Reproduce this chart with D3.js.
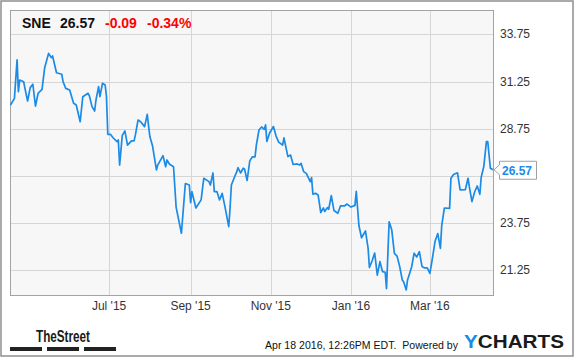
<!DOCTYPE html>
<html>
<head>
<meta charset="utf-8">
<script src="https://cdn.jsdelivr.net/npm/d3@7"></script>
<style>
  body { margin: 0; background: #fff; }
  svg { display: block; font-family: "Liberation Sans", Arial, sans-serif; }
</style>
</head>
<body>
<svg id="chart" width="575" height="358"></svg>
<script>
// SNE daily close
const dates = [
  "2015-04-17","2015-04-20","2015-04-22","2015-04-23","2015-04-24","2015-04-27","2015-04-28","2015-04-30",
  "2015-05-02","2015-05-04","2015-05-06","2015-05-08","2015-05-11","2015-05-13","2015-05-16","2015-05-18","2015-05-19","2015-05-22","2015-05-26","2015-05-27","2015-05-29",
  "2015-06-01","2015-06-04","2015-06-06","2015-06-09","2015-06-11","2015-06-15","2015-06-16","2015-06-18","2015-06-20","2015-06-21","2015-06-23","2015-06-24","2015-06-26","2015-06-28","2015-06-29","2015-06-30",
  "2015-07-02","2015-07-04","2015-07-07","2015-07-08","2015-07-09","2015-07-11","2015-07-13","2015-07-15","2015-07-18","2015-07-20","2015-07-21","2015-07-23","2015-07-25","2015-07-28","2015-07-30",
  "2015-08-01","2015-08-03","2015-08-06","2015-08-07","2015-08-11","2015-08-13","2015-08-14","2015-08-16","2015-08-19","2015-08-21","2015-08-25","2015-08-28","2015-08-31",
  "2015-09-01","2015-09-02","2015-09-05","2015-09-09","2015-09-11","2015-09-15","2015-09-16","2015-09-18","2015-09-19","2015-09-21","2015-09-23","2015-09-25","2015-09-27","2015-09-30",
  "2015-10-01","2015-10-02","2015-10-05","2015-10-06","2015-10-07","2015-10-09","2015-10-11","2015-10-12","2015-10-14","2015-10-16","2015-10-18","2015-10-20","2015-10-21","2015-10-23","2015-10-25","2015-10-27","2015-10-28","2015-10-29","2015-10-31",
  "2015-11-03","2015-11-05","2015-11-07","2015-11-10","2015-11-11","2015-11-14","2015-11-16","2015-11-18","2015-11-21","2015-11-23","2015-11-24","2015-11-26","2015-11-28",
  "2015-12-01","2015-12-02","2015-12-03","2015-12-05","2015-12-07","2015-12-09","2015-12-11","2015-12-12","2015-12-14","2015-12-15","2015-12-17","2015-12-19","2015-12-22","2015-12-24","2015-12-27","2015-12-29",
  "2016-01-01","2016-01-04","2016-01-05","2016-01-07","2016-01-09","2016-01-12","2016-01-14","2016-01-15","2016-01-17","2016-01-19","2016-01-21","2016-01-23","2016-01-25","2016-01-27","2016-01-28","2016-01-30",
  "2016-02-01","2016-02-03","2016-02-05","2016-02-07","2016-02-09","2016-02-10","2016-02-12","2016-02-13","2016-02-16","2016-02-18","2016-02-20","2016-02-22","2016-02-24","2016-02-26","2016-02-28",
  "2016-03-01","2016-03-03","2016-03-05","2016-03-07","2016-03-09","2016-03-10","2016-03-12","2016-03-16","2016-03-17","2016-03-19","2016-03-22","2016-03-24","2016-03-28","2016-03-30","2016-03-31",
  "2016-04-02","2016-04-04","2016-04-06","2016-04-08","2016-04-09","2016-04-11","2016-04-13","2016-04-14","2016-04-16","2016-04-18"
];
const prices = [
  30.01,30.36,32.40,30.71,31.33,31.24,30.89,30.22,30.93,31.11,29.95,30.63,30.84,31.99,32.75,32.52,32.61,31.72,31.64,31.24,30.89,
  30.80,30.10,30.01,29.12,30.45,30.63,30.49,29.92,29.69,30.27,30.98,30.45,31.16,31.07,30.45,28.45,
  28.45,28.27,28.06,28.15,26.82,28.38,28.63,27.88,28.10,28.10,28.42,29.21,29.12,28.86,29.51,
  28.33,27.85,26.56,26.82,27.32,26.73,27.09,26.86,26.73,24.57,23.20,25.84,25.76,
  24.82,25.41,24.54,24.97,
  26.12,25.94,25.76,26.40,25.41,25.41,24.97,25.32,24.65,23.55,
  24.54,25.76,26.29,26.44,26.68,26.40,26.65,26.61,26.00,27.04,27.26,27.25,27.88,28.68,28.84,28.71,28.95,28.07,28.51,
  28.87,28.36,28.04,27.88,28.26,27.27,27.35,26.85,26.88,26.82,26.91,
  26.47,26.38,
  25.94,26.15,25.28,25.32,25.23,24.30,24.54,24.36,24.56,24.47,25.20,24.41,24.26,24.65,24.65,24.75,
  24.59,24.68,25.42,23.61,22.96,23.32,22.40,21.38,21.73,22.15,20.98,21.69,21.16,21.13,20.26,23.81,
  23.37,22.13,
  21.99,21.44,20.72,20.63,20.19,20.72,21.38,22.14,21.94,22.22,21.44,21.36,21.36,
  21.07,21.91,22.79,23.18,22.40,23.61,24.54,24.52,26.12,26.32,26.41,25.50,25.52,26.12,25.66,
  24.88,25.39,25.71,25.27,26.16,26.74,28.06,28.07,26.65,26.57
];
const yTicks = [21.25, 23.75, 26.25, 28.75, 31.25, 33.75];
const xTicks = ["2015-07-01", "2015-09-01", "2015-11-01", "2016-01-01", "2016-03-01"];
const ticker = "SNE";
const lastPrice = "26.57";
const change = "-0.09";
const changePct = "-0.34%";
const stamp = "Apr 18 2016, 12:26PM EDT.  Powered by";

const parse = d3.timeParse("%Y-%m-%d");
const data = dates.map((d, i) => ({ date: parse(d), value: prices[i] }));

const svg = d3.select("#chart");
const plot = { left: 10, top: 10, right: 494, bottom: 295.5 };

// outer frame
svg.append("rect")
  .attr("x", 1).attr("y", 1).attr("width", 572).attr("height", 355)
  .attr("fill", "#fff").attr("stroke", "#8f8f8f").attr("stroke-width", 1.5);

const x = d3.scaleTime()
  .domain([parse("2015-04-17"), parse("2016-04-18")])
  .range([10.5, 493]);
const y = d3.scaleLinear()
  .domain([19.896, 35.05])
  .range([plot.bottom, plot.top]);

svg.append("rect")
  .attr("x", plot.left).attr("y", plot.top)
  .attr("width", plot.right - plot.left).attr("height", plot.bottom - plot.top)
  .attr("fill", "#f7f7f7");

// grid
const crisp = v => Math.round(v) + 0.5;
svg.append("g").selectAll("line").data(yTicks).join("line")
  .attr("x1", plot.left).attr("x2", plot.right)
  .attr("y1", d => crisp(y(d))).attr("y2", d => crisp(y(d)))
  .attr("stroke", "#d6d6d6").attr("stroke-width", 1);
svg.append("g").selectAll("line").data(xTicks).join("line")
  .attr("x1", d => crisp(x(parse(d)))).attr("x2", d => crisp(x(parse(d))))
  .attr("y1", plot.top).attr("y2", plot.bottom)
  .attr("stroke", "#d6d6d6").attr("stroke-width", 1);

// plot border
svg.append("rect")
  .attr("x", plot.left + 0.5).attr("y", plot.top + 0.5)
  .attr("width", plot.right - plot.left - 1).attr("height", plot.bottom - plot.top - 0.5)
  .attr("fill", "none").attr("stroke", "#a3a3a3").attr("stroke-width", 1);

// price line
const line = d3.line().x(d => x(d.date)).y(d => y(d.value));
svg.append("path")
  .datum(data)
  .attr("d", line)
  .attr("fill", "none")
  .attr("stroke", "#1a8be6")
  .attr("stroke-width", 1.7)
  .attr("stroke-linejoin", "round");

// y labels on the right (the one under the price tag is hidden by it)
const ty = y(prices[prices.length - 1]);
svg.append("g").selectAll("text")
  .data(yTicks.filter(d => Math.abs(y(d) - ty) > 12))
  .join("text")
  .attr("x", 500).attr("y", d => y(d) + 4)
  .attr("font-size", 12).attr("fill", "#333")
  .text(d => d3.format(".2f")(d));

// x labels
const fmt = d3.timeFormat("%b '%y");
svg.append("g").selectAll("text").data(xTicks).join("text")
  .attr("x", d => x(parse(d))).attr("y", 310)
  .attr("text-anchor", "middle")
  .attr("font-size", 12).attr("fill", "#333")
  .text(d => fmt(parse(d)));

// last price tag
const tag = d3.path();
tag.moveTo(494, ty);
tag.lineTo(499.5, ty - 5);
tag.lineTo(499.5, ty - 8.5);
tag.lineTo(536.5, ty - 8.5);
tag.lineTo(536.5, ty + 9.5);
tag.lineTo(499.5, ty + 9.5);
tag.lineTo(499.5, ty + 5);
tag.closePath();
svg.append("path").attr("d", tag.toString())
  .attr("fill", "#fff").attr("stroke", "#a0a0a0").attr("stroke-width", 1);
svg.append("text")
  .attr("x", 502).attr("y", ty + 5)
  .attr("font-size", 12).attr("font-weight", "bold").attr("fill", "#1a8be6")
  .text(lastPrice);

// header
const head = svg.append("g").attr("font-size", 14).attr("font-weight", "bold");
head.append("text").attr("x", 22).attr("y", 28).attr("fill", "#111").text(ticker);
head.append("text").attr("x", 60).attr("y", 28).attr("fill", "#111").text(lastPrice);
head.append("text").attr("x", 105).attr("y", 28).attr("fill", "#f00").text(change);
head.append("text").attr("x", 147).attr("y", 28).attr("fill", "#f00").text(changePct);

// footer: TheStreet logo
svg.append("text")
  .attr("x", 36).attr("y", 342)
  .attr("font-family", "'Liberation Sans Narrow', 'Arial Narrow', sans-serif")
  .attr("font-size", 16).attr("font-weight", "bold").attr("fill", "#1a1a1a")
  .attr("textLength", 54).attr("lengthAdjust", "spacingAndGlyphs")
  .text("TheStreet");
svg.append("g").selectAll("rect").data([10, 47, 84]).join("rect")
  .attr("x", d => d).attr("y", 347).attr("width", 32).attr("height", 4)
  .attr("fill", "#222");

// footer: timestamp and YCharts
svg.append("text")
  .attr("x", 265).attr("y", 349)
  .attr("font-size", 11).attr("fill", "#111")
  .attr("xml:space", "preserve")
  .attr("textLength", 193).attr("lengthAdjust", "spacingAndGlyphs")
  .text(stamp);
const yc = svg.append("text")
  .attr("x", 464).attr("y", 348)
  .attr("font-size", 19).attr("font-weight", "bold")
  .attr("textLength", 100).attr("lengthAdjust", "spacingAndGlyphs");
yc.append("tspan").attr("fill", "#1a8be6").text("Y");
yc.append("tspan").attr("fill", "#1a1a1a").text("CHARTS");
</script>
</body>
</html>
